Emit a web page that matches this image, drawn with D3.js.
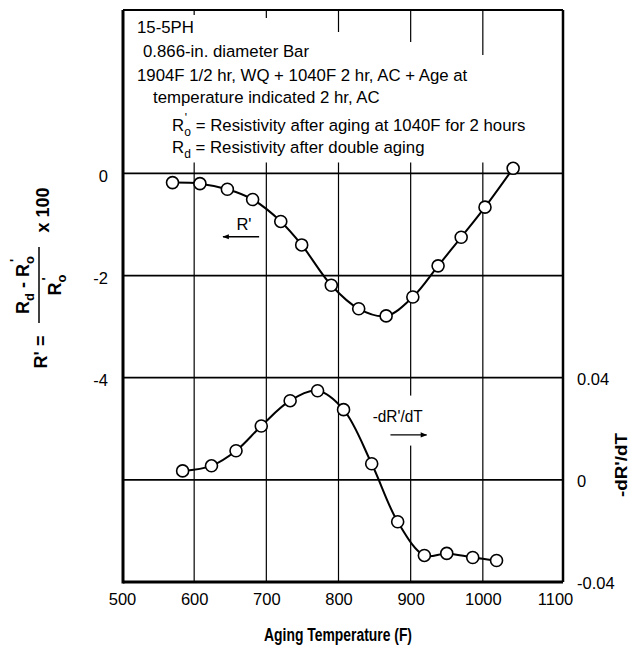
<!DOCTYPE html>
<head>
<meta charset="utf-8">
<style type="text/css">
body { margin: 0; background: #fff; }
text { font-family: "Liberation Sans", Arial, sans-serif; fill: #000; }
.tick text { font-size: 16.5px; }
.bold { font-weight: bold; }
</style>
</head>
<body>
<script src="https://cdn.jsdelivr.net/npm/d3@7"></script>
<script type="text/javascript">
  // data
  var tempR = [570, 608, 646, 681, 720, 749, 790, 828, 866, 903, 938, 970, 1003, 1042];
  var rPrime = [-0.18, -0.20, -0.31, -0.51, -0.94, -1.40, -2.19, -2.65, -2.79, -2.42, -1.81, -1.25, -0.66, 0.10];
  var tempD = [584, 624, 658, 693, 733, 771, 807, 846, 882, 919, 950, 986, 1019];
  var dRdT = [0.0035, 0.0055, 0.0114, 0.0211, 0.0310, 0.0349, 0.0275, 0.0063, -0.0164, -0.0296, -0.0288, -0.0304, -0.0316];

  var xTicks = [500, 600, 700, 800, 900, 1000, 1100];
  var xGrid = [600, 700, 800, 900, 1000];
  var leftTicks = [0, -2, -4];
  var leftGrid = [0, -2, -4, -6];
  var rightTicks = [0.04, 0, -0.04];

  var noteLines = [
    '15-5PH',
    '0.866-in. diameter Bar',
    '1904F 1/2 hr, WQ + 1040F 2 hr, AC + Age at',
    'temperature indicated 2 hr, AC'
  ];

  var svg = d3.select('body').append('svg')
          .attr('width', 631)
          .attr('height', 649);

  // plot frame
  var pL = 123, pR = 563, pT = 10, pB = 582;

  var x = d3.scaleLinear().domain([500, 1100]).range([122, 555]);
  var yL = d3.scaleLinear().domain([-8, 3.2]).range([pB, pT]);
  var yR = d3.scaleLinear().domain([-0.04, 0.184]).range([pB, pT]);

  // vertical grid (hidden behind the note block at top, short stubs remain)
  var stubs = [5, 8, 22, 32, 45];
  svg.selectAll('.vgrid').data(xGrid).enter().append('line')
          .attr('x1', function(d){ return x(d); })
          .attr('x2', function(d){ return x(d); })
          .attr('y1', yL(0) - 11)
          .attr('y2', pB)
          .attr('stroke', '#000').attr('stroke-width', 1.2);
  svg.selectAll('.vstub').data(xGrid).enter().append('line')
          .attr('x1', function(d){ return x(d); })
          .attr('x2', function(d){ return x(d); })
          .attr('y1', pT)
          .attr('y2', function(d,i){ return pT + stubs[i]; })
          .attr('stroke', '#000').attr('stroke-width', 1.2);

  // horizontal grid
  svg.selectAll('.hgrid').data(leftGrid).enter().append('line')
          .attr('x1', pL).attr('x2', pR)
          .attr('y1', function(d){ return yL(d); })
          .attr('y2', function(d){ return yL(d); })
          .attr('stroke', '#000').attr('stroke-width', 1.8);

  // white backing behind the -dR'/dT label hides the grid line there
  svg.append('rect').attr('x', x(853)).attr('y', yR(0.033)).attr('width', 56).attr('height', 50)
          .attr('fill', '#fff');

  // frame
  svg.append('line').attr('x1', pL).attr('x2', pR).attr('y1', pT).attr('y2', pT)
          .attr('stroke', '#000').attr('stroke-width', 2);
  svg.append('line').attr('x1', pR).attr('x2', pR).attr('y1', pT).attr('y2', pB)
          .attr('stroke', '#000').attr('stroke-width', 2.5);
  svg.append('line').attr('x1', pL).attr('x2', pL).attr('y1', pT).attr('y2', pB + 1.5)
          .attr('stroke', '#000').attr('stroke-width', 3);
  svg.append('line').attr('x1', pL).attr('x2', pR).attr('y1', pB).attr('y2', pB)
          .attr('stroke', '#000').attr('stroke-width', 3);

  // axes (labels only)
  var ax = svg.append('g').attr('transform', 'translate(0,' + pB + ')')
          .call(d3.axisBottom(x).tickValues(xTicks).tickSize(0).tickPadding(11).tickFormat(d3.format('d')));
  var al = svg.append('g').attr('transform', 'translate(' + pL + ',0)')
          .call(d3.axisLeft(yL).tickValues(leftTicks).tickSize(0).tickPadding(15)
            .tickFormat(function(d){ return d === 0 ? '0' : String(d); }));
  var ar = svg.append('g').attr('transform', 'translate(' + pR + ',0)')
          .call(d3.axisRight(yR).tickValues(rightTicks).tickSize(0).tickPadding(14)
            .tickFormat(function(d){ return d === 0 ? '0' : d.toFixed(2); }));
  [ax, al, ar].forEach(function(a){
    a.select('.domain').remove();
    a.selectAll('text').attr('fill', '#000').style('font-family', '"Liberation Sans", Arial, sans-serif');
  });
  al.selectAll('text').attr('dy', '0.5em');
  ar.selectAll('text').attr('dy', '0.42em');

  // curves
  var lineR = d3.line()
          .x(function(d){ return x(d[0]); })
          .y(function(d){ return yL(d[1]); })
          .curve(d3.curveCatmullRom.alpha(0.5));
  var lineD = d3.line()
          .x(function(d){ return x(d[0]); })
          .y(function(d){ return yR(d[1]); })
          .curve(d3.curveCatmullRom.alpha(0.5));

  var ptsR = d3.zip(tempR, rPrime);
  var ptsD = d3.zip(tempD, dRdT);

  svg.append('path').datum(ptsR).attr('d', lineR)
          .attr('fill', 'none').attr('stroke', '#000').attr('stroke-width', 2);
  svg.append('path').datum(ptsD).attr('d', lineD)
          .attr('fill', 'none').attr('stroke', '#000').attr('stroke-width', 2);

  svg.selectAll('.ptR').data(ptsR).enter().append('circle')
          .attr('cx', function(d){ return x(d[0]); })
          .attr('cy', function(d){ return yL(d[1]); })
          .attr('r', 6)
          .attr('fill', '#fff').attr('stroke', '#000').attr('stroke-width', 1.6);
  svg.selectAll('.ptD').data(ptsD).enter().append('circle')
          .attr('cx', function(d){ return x(d[0]); })
          .attr('cy', function(d){ return yR(d[1]); })
          .attr('r', 6)
          .attr('fill', '#fff').attr('stroke', '#000').attr('stroke-width', 1.6);

  // arrow marker
  svg.append('defs').append('marker')
          .attr('id', 'arr').attr('viewBox', '0 0 10 10')
          .attr('refX', 9).attr('refY', 5)
          .attr('markerWidth', 7).attr('markerHeight', 5)
          .attr('orient', 'auto')
          .append('path').attr('d', 'M0,1 L10,5 L0,9 Z').attr('fill', '#000');

  // R' annotation
  svg.append('text').attr('x', x(669)).attr('y', yL(-1.1))
          .attr('text-anchor', 'middle').style('font-size', '16.5px')
          .text("R'");
  svg.append('line').attr('x1', x(690)).attr('x2', x(640))
          .attr('y1', yL(-1.24)).attr('y2', yL(-1.24))
          .attr('stroke', '#000').attr('stroke-width', 1.3)
          .attr('marker-end', 'url(#arr)');

  // -dR'/dT annotation
  svg.append('text').attr('x', x(882)).attr('y', yR(0.0225))
          .attr('text-anchor', 'middle').style('font-size', '16.5px')
          .attr('textLength', 50).attr('lengthAdjust', 'spacingAndGlyphs')
          .text("-dR'/dT");
  svg.append('line').attr('x1', x(872)).attr('x2', x(922))
          .attr('y1', yR(0.0176)).attr('y2', yR(0.0176))
          .attr('stroke', '#000').attr('stroke-width', 1.3)
          .attr('marker-end', 'url(#arr)');

  // note block
  var noteX = [137, 143, 137, 153];
  var noteY = [33, 57, 81, 103];
  svg.selectAll('.note').data(noteLines).enter().append('text')
          .attr('x', function(d,i){ return noteX[i]; })
          .attr('y', function(d,i){ return noteY[i]; })
          .style('font-size', '16.8px')
          .text(function(d){ return d; });

  var def1 = svg.append('text').attr('x', 172).attr('y', 131).style('font-size', '16.8px');
  def1.append('tspan').text('R');
  def1.append('tspan').attr('dy', 5).style('font-size', '12px').text('o');
  def1.append('tspan').attr('dx', -6).attr('dy', -14).style('font-size', '12px').text("'");
  def1.append('tspan').attr('dx', 4).attr('dy', 9).text(' = Resistivity after aging at 1040F for 2 hours');

  var def2 = svg.append('text').attr('x', 172).attr('y', 153).style('font-size', '16.8px');
  def2.append('tspan').text('R');
  def2.append('tspan').attr('dy', 5).style('font-size', '12px').text('d');
  def2.append('tspan').attr('dy', -5).text(' = Resistivity after double aging');

  // x axis title
  svg.append('text').attr('class', 'bold')
          .attr('x', 338).attr('y', 641)
          .attr('text-anchor', 'middle').style('font-size', '18px')
          .attr('textLength', 148).attr('lengthAdjust', 'spacingAndGlyphs')
          .text('Aging Temperature (F)');

  // right axis title
  svg.append('text').attr('class', 'bold')
          .attr('transform', 'translate(627,465) rotate(-90)')
          .attr('text-anchor', 'middle').style('font-size', '16px')
          .attr('textLength', 64).attr('lengthAdjust', 'spacingAndGlyphs')
          .text("-dR'/dT");

  // left axis title: R' = (Rd - R'o) / R'o x 100
  var lt = svg.append('g').attr('transform', 'translate(39,285) rotate(-90)');
  lt.append('text').attr('class', 'bold').attr('x', -67).attr('y', 8)
          .attr('text-anchor', 'middle').style('font-size', '18px').text("R' =");
  lt.append('line').attr('x1', -38).attr('x2', 38).attr('y1', 0).attr('y2', 0)
          .attr('stroke', '#000').attr('stroke-width', 1.5);
  var num = lt.append('text').attr('class', 'bold').attr('x', 0).attr('y', -10)
          .attr('text-anchor', 'middle').style('font-size', '18px');
  num.append('tspan').text('R');
  num.append('tspan').attr('dy', 5).style('font-size', '13px').text('d');
  num.append('tspan').attr('dy', -5).text(' - R');
  num.append('tspan').attr('dy', 5).style('font-size', '13px').text('o');
  num.append('tspan').attr('dx', -6).attr('dy', -15).style('font-size', '13px').text("'");
  var den = lt.append('text').attr('class', 'bold').attr('x', 0).attr('y', 22)
          .attr('text-anchor', 'middle').style('font-size', '18px');
  den.append('tspan').text('R');
  den.append('tspan').attr('dy', 5).style('font-size', '13px').text('o');
  den.append('tspan').attr('dx', -6).attr('dy', -15).style('font-size', '13px').text("'");
  lt.append('text').attr('class', 'bold').attr('x', 75).attr('y', 10)
          .attr('text-anchor', 'middle').style('font-size', '18px').text('x 100');
</script>
</body>
